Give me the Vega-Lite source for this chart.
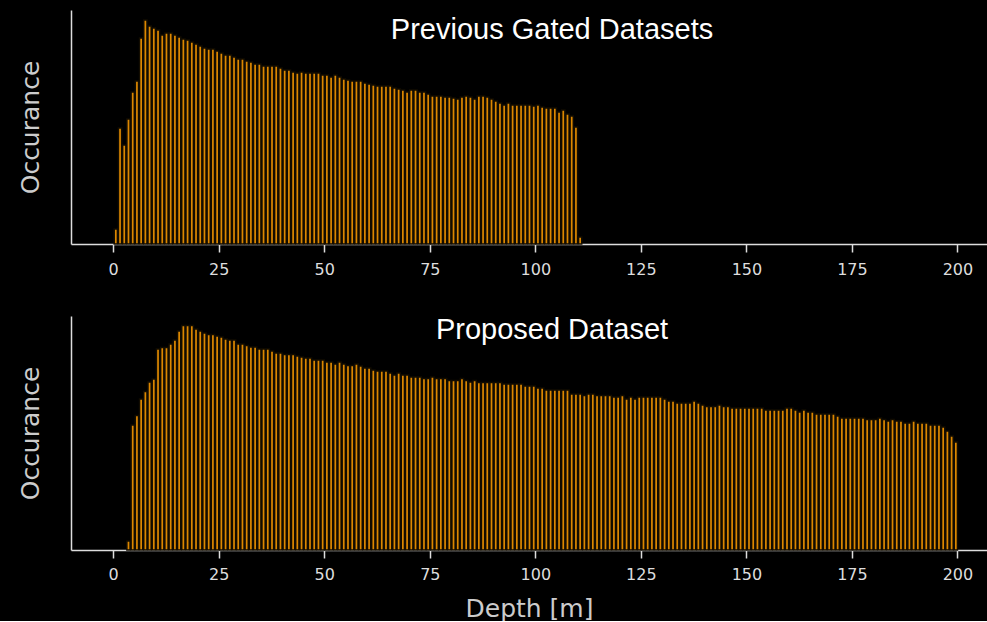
{
  "$schema": "https://vega.github.io/schema/vega-lite/v6.json",
  "background": "black",
  "padding": {"left": 18, "top": 10, "right": 0, "bottom": 0},
  "spacing": 39,
  "config": {
    "view": {"stroke": null},
    "axis": {"grid": false, "domainColor": "#dddddd", "domainWidth": 1.5, "tickColor": "#dddddd", "tickWidth": 1.5, "labelColor": "#dddddd", "titleColor": "#cccccc", "labelFont": "DejaVu Sans", "titleFont": "DejaVu Sans", "titleFontWeight": "normal"},
    "title": {"font": "Liberation Sans", "fontSize": 29, "fontWeight": "normal", "color": "white"}
  },
  "datasets": {
    "prev": [
      {"lo":0,"hi":1,"n":15},{"lo":1,"hi":2,"n":116},{"lo":2,"hi":3,"n":99},{"lo":3,"hi":4,"n":125},{"lo":4,"hi":5,"n":152},{"lo":5,"hi":6,"n":163},{"lo":6,"hi":7,"n":206},{"lo":7,"hi":8,"n":224},{"lo":8,"hi":9,"n":218},{"lo":9,"hi":10,"n":216},
      {"lo":10,"hi":11,"n":214},{"lo":11,"hi":12,"n":209},{"lo":12,"hi":13,"n":211},{"lo":13,"hi":14,"n":211},{"lo":14,"hi":15,"n":209},{"lo":15,"hi":16,"n":207},{"lo":16,"hi":17,"n":205},{"lo":17,"hi":18,"n":204},{"lo":18,"hi":19,"n":202},{"lo":19,"hi":20,"n":200},
      {"lo":20,"hi":21,"n":198},{"lo":21,"hi":22,"n":196},{"lo":22,"hi":23,"n":195},{"lo":23,"hi":24,"n":195},{"lo":24,"hi":25,"n":193},{"lo":25,"hi":26,"n":191},{"lo":26,"hi":27,"n":189},{"lo":27,"hi":28,"n":189},{"lo":28,"hi":29,"n":187},{"lo":29,"hi":30,"n":185},
      {"lo":30,"hi":31,"n":185},{"lo":31,"hi":32,"n":183},{"lo":32,"hi":33,"n":182},{"lo":33,"hi":34,"n":180},{"lo":34,"hi":35,"n":180},{"lo":35,"hi":36,"n":178},{"lo":36,"hi":37,"n":178},{"lo":37,"hi":38,"n":178},{"lo":38,"hi":39,"n":178},{"lo":39,"hi":40,"n":176},
      {"lo":40,"hi":41,"n":174},{"lo":41,"hi":42,"n":174},{"lo":42,"hi":43,"n":172},{"lo":43,"hi":44,"n":171},{"lo":44,"hi":45,"n":172},{"lo":45,"hi":46,"n":171},{"lo":46,"hi":47,"n":171},{"lo":47,"hi":48,"n":171},{"lo":48,"hi":49,"n":171},{"lo":49,"hi":50,"n":169},
      {"lo":50,"hi":51,"n":169},{"lo":51,"hi":52,"n":167},{"lo":52,"hi":53,"n":169},{"lo":53,"hi":54,"n":167},{"lo":54,"hi":55,"n":165},{"lo":55,"hi":56,"n":164},{"lo":56,"hi":57,"n":163},{"lo":57,"hi":58,"n":163},{"lo":58,"hi":59,"n":163},{"lo":59,"hi":60,"n":161},
      {"lo":60,"hi":61,"n":160},{"lo":61,"hi":62,"n":159},{"lo":62,"hi":63,"n":158},{"lo":63,"hi":64,"n":158},{"lo":64,"hi":65,"n":158},{"lo":65,"hi":66,"n":158},{"lo":66,"hi":67,"n":156},{"lo":67,"hi":68,"n":155},{"lo":68,"hi":69,"n":154},{"lo":69,"hi":70,"n":152},
      {"lo":70,"hi":71,"n":154},{"lo":71,"hi":72,"n":154},{"lo":72,"hi":73,"n":152},{"lo":73,"hi":74,"n":152},{"lo":74,"hi":75,"n":150},{"lo":75,"hi":76,"n":148},{"lo":76,"hi":77,"n":148},{"lo":77,"hi":78,"n":148},{"lo":78,"hi":79,"n":147},{"lo":79,"hi":80,"n":147},
      {"lo":80,"hi":81,"n":146},{"lo":81,"hi":82,"n":145},{"lo":82,"hi":83,"n":147},{"lo":83,"hi":84,"n":148},{"lo":84,"hi":85,"n":147},{"lo":85,"hi":86,"n":145},{"lo":86,"hi":87,"n":148},{"lo":87,"hi":88,"n":148},{"lo":88,"hi":89,"n":147},{"lo":89,"hi":90,"n":145},
      {"lo":90,"hi":91,"n":143},{"lo":91,"hi":92,"n":141},{"lo":92,"hi":93,"n":139},{"lo":93,"hi":94,"n":141},{"lo":94,"hi":95,"n":139},{"lo":95,"hi":96,"n":139},{"lo":96,"hi":97,"n":139},{"lo":97,"hi":98,"n":139},{"lo":98,"hi":99,"n":139},{"lo":99,"hi":100,"n":138},
      {"lo":100,"hi":101,"n":139},{"lo":101,"hi":102,"n":137},{"lo":102,"hi":103,"n":136},{"lo":103,"hi":104,"n":136},{"lo":104,"hi":105,"n":136},{"lo":105,"hi":106,"n":132},{"lo":106,"hi":107,"n":134},{"lo":107,"hi":108,"n":130},{"lo":108,"hi":109,"n":128},{"lo":109,"hi":110,"n":117},
      {"lo":110,"hi":111,"n":7}
    ],
    "prop": [
      {"lo":3,"hi":4,"n":9},{"lo":4,"hi":5,"n":125},{"lo":5,"hi":6,"n":134.5},{"lo":6,"hi":7,"n":151},{"lo":7,"hi":8,"n":158.5},{"lo":8,"hi":9,"n":168},{"lo":9,"hi":10,"n":171},
      {"lo":10,"hi":11,"n":201},{"lo":11,"hi":12,"n":202.5},{"lo":12,"hi":13,"n":202.5},{"lo":13,"hi":14,"n":206},{"lo":14,"hi":15,"n":210},{"lo":15,"hi":16,"n":219},{"lo":16,"hi":17,"n":224.5},{"lo":17,"hi":18,"n":224.5},{"lo":18,"hi":19,"n":224.5},{"lo":19,"hi":20,"n":221},
      {"lo":20,"hi":21,"n":219},{"lo":21,"hi":22,"n":217},{"lo":22,"hi":23,"n":215.5},{"lo":23,"hi":24,"n":215.5},{"lo":24,"hi":25,"n":214},{"lo":25,"hi":26,"n":213},{"lo":26,"hi":27,"n":211},{"lo":27,"hi":28,"n":210},{"lo":28,"hi":29,"n":210},{"lo":29,"hi":30,"n":206},
      {"lo":30,"hi":31,"n":206},{"lo":31,"hi":32,"n":204.5},{"lo":32,"hi":33,"n":203},{"lo":33,"hi":34,"n":203},{"lo":34,"hi":35,"n":201},{"lo":35,"hi":36,"n":201},{"lo":36,"hi":37,"n":201},{"lo":37,"hi":38,"n":199},{"lo":38,"hi":39,"n":197},{"lo":39,"hi":40,"n":197},
      {"lo":40,"hi":41,"n":195.5},{"lo":41,"hi":42,"n":195.5},{"lo":42,"hi":43,"n":195.5},{"lo":43,"hi":44,"n":194},{"lo":44,"hi":45,"n":193},{"lo":45,"hi":46,"n":192},{"lo":46,"hi":47,"n":192},{"lo":47,"hi":48,"n":190},{"lo":48,"hi":49,"n":190},{"lo":49,"hi":50,"n":190},
      {"lo":50,"hi":51,"n":188},{"lo":51,"hi":52,"n":188},{"lo":52,"hi":53,"n":186},{"lo":53,"hi":54,"n":188},{"lo":54,"hi":55,"n":186},{"lo":55,"hi":56,"n":184.5},{"lo":56,"hi":57,"n":184.5},{"lo":57,"hi":58,"n":186},{"lo":58,"hi":59,"n":184},{"lo":59,"hi":60,"n":182},
      {"lo":60,"hi":61,"n":182},{"lo":61,"hi":62,"n":180},{"lo":62,"hi":63,"n":179},{"lo":63,"hi":64,"n":179},{"lo":64,"hi":65,"n":179},{"lo":65,"hi":66,"n":177},{"lo":66,"hi":67,"n":175},{"lo":67,"hi":68,"n":177},{"lo":68,"hi":69,"n":175},{"lo":69,"hi":70,"n":175},
      {"lo":70,"hi":71,"n":173},{"lo":71,"hi":72,"n":173},{"lo":72,"hi":73,"n":173},{"lo":73,"hi":74,"n":171.5},{"lo":74,"hi":75,"n":171.5},{"lo":75,"hi":76,"n":173},{"lo":76,"hi":77,"n":171.5},{"lo":77,"hi":78,"n":171.5},{"lo":78,"hi":79,"n":171.5},{"lo":79,"hi":80,"n":169.5},
      {"lo":80,"hi":81,"n":169.5},{"lo":81,"hi":82,"n":169.5},{"lo":82,"hi":83,"n":171.5},{"lo":83,"hi":84,"n":169.5},{"lo":84,"hi":85,"n":168},{"lo":85,"hi":86,"n":169.5},{"lo":86,"hi":87,"n":167.5},{"lo":87,"hi":88,"n":167.5},{"lo":88,"hi":89,"n":167.5},{"lo":89,"hi":90,"n":167.5},
      {"lo":90,"hi":91,"n":167.5},{"lo":91,"hi":92,"n":167.5},{"lo":92,"hi":93,"n":166},{"lo":93,"hi":94,"n":166},{"lo":94,"hi":95,"n":166},{"lo":95,"hi":96,"n":166},{"lo":96,"hi":97,"n":166},{"lo":97,"hi":98,"n":164},{"lo":98,"hi":99,"n":164},{"lo":99,"hi":100,"n":164},
      {"lo":100,"hi":101,"n":162},{"lo":101,"hi":102,"n":162},{"lo":102,"hi":103,"n":160},{"lo":103,"hi":104,"n":160},{"lo":104,"hi":105,"n":160},{"lo":105,"hi":106,"n":160},{"lo":106,"hi":107,"n":160},{"lo":107,"hi":108,"n":160},{"lo":108,"hi":109,"n":156},{"lo":109,"hi":110,"n":156},
      {"lo":110,"hi":111,"n":156},{"lo":111,"hi":112,"n":154.5},{"lo":112,"hi":113,"n":156},{"lo":113,"hi":114,"n":156},{"lo":114,"hi":115,"n":154.5},{"lo":115,"hi":116,"n":154.5},{"lo":116,"hi":117,"n":154.5},{"lo":117,"hi":118,"n":154.5},{"lo":118,"hi":119,"n":153},{"lo":119,"hi":120,"n":153},
      {"lo":120,"hi":121,"n":154.5},{"lo":121,"hi":122,"n":151},{"lo":122,"hi":123,"n":153},{"lo":123,"hi":124,"n":151},{"lo":124,"hi":125,"n":153},{"lo":125,"hi":126,"n":153},{"lo":126,"hi":127,"n":153},{"lo":127,"hi":128,"n":153},{"lo":128,"hi":129,"n":153},{"lo":129,"hi":130,"n":153},
      {"lo":130,"hi":131,"n":151},{"lo":131,"hi":132,"n":149},{"lo":132,"hi":133,"n":149},{"lo":133,"hi":134,"n":147},{"lo":134,"hi":135,"n":147},{"lo":135,"hi":136,"n":147},{"lo":136,"hi":137,"n":147},{"lo":137,"hi":138,"n":149},{"lo":138,"hi":139,"n":147},{"lo":139,"hi":140,"n":145},
      {"lo":140,"hi":141,"n":143.5},{"lo":141,"hi":142,"n":143.5},{"lo":142,"hi":143,"n":143.5},{"lo":143,"hi":144,"n":145},{"lo":144,"hi":145,"n":143.5},{"lo":145,"hi":146,"n":143.5},{"lo":146,"hi":147,"n":142},{"lo":147,"hi":148,"n":142},{"lo":148,"hi":149,"n":142},{"lo":149,"hi":150,"n":142},
      {"lo":150,"hi":151,"n":142},{"lo":151,"hi":152,"n":142},{"lo":152,"hi":153,"n":142},{"lo":153,"hi":154,"n":142},{"lo":154,"hi":155,"n":140},{"lo":155,"hi":156,"n":140},{"lo":156,"hi":157,"n":140},{"lo":157,"hi":158,"n":140},{"lo":158,"hi":159,"n":140},{"lo":159,"hi":160,"n":142},
      {"lo":160,"hi":161,"n":142},{"lo":161,"hi":162,"n":140},{"lo":162,"hi":163,"n":138},{"lo":163,"hi":164,"n":140},{"lo":164,"hi":165,"n":138},{"lo":165,"hi":166,"n":138},{"lo":166,"hi":167,"n":136},{"lo":167,"hi":168,"n":136},{"lo":168,"hi":169,"n":136},{"lo":169,"hi":170,"n":136},
      {"lo":170,"hi":171,"n":136},{"lo":171,"hi":172,"n":134},{"lo":172,"hi":173,"n":132},{"lo":173,"hi":174,"n":132},{"lo":174,"hi":175,"n":132},{"lo":175,"hi":176,"n":132},{"lo":176,"hi":177,"n":132},{"lo":177,"hi":178,"n":132},{"lo":178,"hi":179,"n":130.5},{"lo":179,"hi":180,"n":130.5},
      {"lo":180,"hi":181,"n":130.5},{"lo":181,"hi":182,"n":132},{"lo":182,"hi":183,"n":130.5},{"lo":183,"hi":184,"n":129},{"lo":184,"hi":185,"n":130.5},{"lo":185,"hi":186,"n":129},{"lo":186,"hi":187,"n":129},{"lo":187,"hi":188,"n":127},{"lo":188,"hi":189,"n":127},{"lo":189,"hi":190,"n":129},
      {"lo":190,"hi":191,"n":127},{"lo":191,"hi":192,"n":127},{"lo":192,"hi":193,"n":127},{"lo":193,"hi":194,"n":125},{"lo":194,"hi":195,"n":125},{"lo":195,"hi":196,"n":125},{"lo":196,"hi":197,"n":123},{"lo":197,"hi":198,"n":119},{"lo":198,"hi":199,"n":114},{"lo":199,"hi":200,"n":108}
    ]
  },
  "vconcat": [
    {
      "width": 916,
      "height": 234,
      "title": {"text": "Previous Gated Datasets", "anchor": "middle", "offset": -35, "dx": 23},
      "data": {"name": "prev"},
      "mark": {"type": "bar", "fill": "#dc8700", "stroke": "#120c00", "strokeWidth": 1.5},
      "encoding": {
        "x": {"field": "lo", "type": "quantitative", "bin": {"binned": true},
              "scale": {"domain": [-10, 207], "nice": false, "zero": false},
              "axis": {"title": null, "values": [0, 25, 50, 75, 100, 125, 150, 175, 200], "labelFontSize": 16, "tickSize": 8, "labelPadding": 9}},
        "x2": {"field": "hi"},
        "y": {"field": "n", "type": "quantitative",
              "scale": {"domain": [0, 234], "nice": false},
              "axis": {"title": "Occurance", "ticks": false, "labels": false, "titleFontSize": 25, "titlePadding": 28}}
      }
    },
    {
      "width": 916,
      "height": 234,
      "title": {"text": "Proposed Dataset", "anchor": "middle", "offset": -29, "dx": 23},
      "data": {"name": "prop"},
      "mark": {"type": "bar", "fill": "#dc8700", "stroke": "#120c00", "strokeWidth": 1.5},
      "encoding": {
        "x": {"field": "lo", "type": "quantitative", "bin": {"binned": true},
              "scale": {"domain": [-10, 207], "nice": false, "zero": false},
              "axis": {"title": "Depth [m]", "values": [0, 25, 50, 75, 100, 125, 150, 175, 200], "labelFontSize": 16, "tickSize": 8, "labelPadding": 8, "titleFontSize": 25, "titlePadding": 14}},
        "x2": {"field": "hi"},
        "y": {"field": "n", "type": "quantitative",
              "scale": {"domain": [0, 234], "nice": false},
              "axis": {"title": "Occurance", "ticks": false, "labels": false, "titleFontSize": 25, "titlePadding": 28}}
      }
    }
  ]
}
